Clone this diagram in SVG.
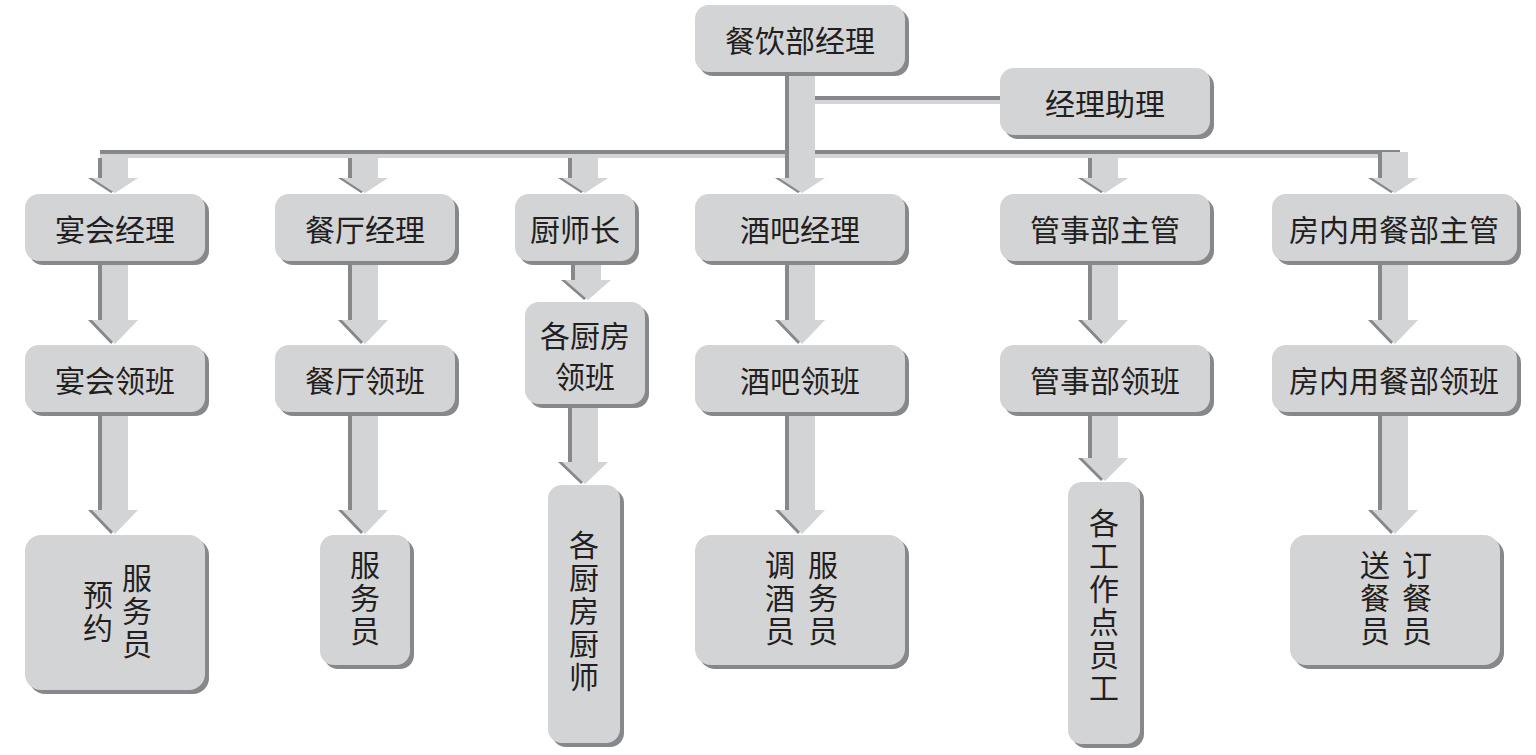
<svg xmlns="http://www.w3.org/2000/svg" width="1536" height="755" viewBox="0 0 1536 755">
<style>
.sh{fill:#87888b}.bx{fill:#d3d4d6}
.t{font-family:"Noto Sans CJK SC","Noto Sans",sans-serif;font-size:30px;fill:#231f20;text-anchor:middle;dominant-baseline:central}
.v{font-family:"Noto Sans CJK SC","Noto Sans",sans-serif;font-size:30px;fill:#231f20;writing-mode:vertical-rl;letter-spacing:3px}
.as{fill:#87888b}.af{fill:#d3d4d6}
</style>
<rect width="1536" height="755" fill="#fff"/>
<g id="connectors">
<rect x="100" y="150" width="1300" height="4" class="as"/><rect x="100" y="154" width="1300" height="4" class="af"/>
<rect x="815" y="96" width="190" height="4" class="as"/><rect x="815" y="100" width="190" height="4" class="af"/>
<g id="arrows">
<path class="as" transform="translate(-4,0)" d="M789 72V178H779L802 193L825 178H815V72Z"/><path class="af" d="M789 72V178H779L802 193L825 178H815V72Z"/>
<path class="as" transform="translate(-4,0)" d="M102 158V178H92L115 193L138 178H128V158Z"/><path class="af" d="M102 158V178H92L115 193L138 178H128V158Z"/>
<path class="as" transform="translate(-4,0)" d="M352 158V178H342L365 193L388 178H378V158Z"/><path class="af" d="M352 158V178H342L365 193L388 178H378V158Z"/>
<path class="as" transform="translate(-4,0)" d="M572 158V178H562L585 193L608 178H598V158Z"/><path class="af" d="M572 158V178H562L585 193L608 178H598V158Z"/>
<path class="as" transform="translate(-4,0)" d="M1092 158V178H1082L1105 193L1128 178H1118V158Z"/><path class="af" d="M1092 158V178H1082L1105 193L1128 178H1118V158Z"/>
<path class="as" transform="translate(-4,0)" d="M1382 152V178H1372L1395 193L1418 178H1408V152Z"/><path class="af" d="M1382 152V178H1372L1395 193L1418 178H1408V152Z"/>

<path class="as" transform="translate(-4,0)" d="M102 262V320H92L115 344L138 320H128V262Z"/><path class="af" d="M102 262V320H92L115 344L138 320H128V262Z"/>
<path class="as" transform="translate(-4,0)" d="M352 262V320H342L365 344L388 320H378V262Z"/><path class="af" d="M352 262V320H342L365 344L388 320H378V262Z"/>
<path class="as" transform="translate(-4,0)" d="M575 262V280H565L588 300L611 280H601V262Z"/><path class="af" d="M575 262V280H565L588 300L611 280H601V262Z"/>
<path class="as" transform="translate(-4,0)" d="M789 262V320H779L802 344L825 320H815V262Z"/><path class="af" d="M789 262V320H779L802 344L825 320H815V262Z"/>
<path class="as" transform="translate(-4,0)" d="M1092 262V320H1082L1105 344L1128 320H1118V262Z"/><path class="af" d="M1092 262V320H1082L1105 344L1128 320H1118V262Z"/>
<path class="as" transform="translate(-4,0)" d="M1382 262V320H1372L1395 344L1418 320H1408V262Z"/><path class="af" d="M1382 262V320H1372L1395 344L1418 320H1408V262Z"/>

<path class="as" transform="translate(-4,0)" d="M102 412V510H92L115 534L138 510H128V412Z"/><path class="af" d="M102 412V510H92L115 534L138 510H128V412Z"/>
<path class="as" transform="translate(-4,0)" d="M352 412V510H342L365 534L388 510H378V412Z"/><path class="af" d="M352 412V510H342L365 534L388 510H378V412Z"/>
<path class="as" transform="translate(-4,0)" d="M572 405V462H562L585 484L608 462H598V405Z"/><path class="af" d="M572 405V462H562L585 484L608 462H598V405Z"/>
<path class="as" transform="translate(-4,0)" d="M789 412V510H779L802 534L825 510H815V412Z"/><path class="af" d="M789 412V510H779L802 534L825 510H815V412Z"/>
<path class="as" transform="translate(-4,0)" d="M1092 412V458H1082L1105 481L1128 458H1118V412Z"/><path class="af" d="M1092 412V458H1082L1105 481L1128 458H1118V412Z"/>
<path class="as" transform="translate(-4,0)" d="M1382 412V510H1372L1395 534L1418 510H1408V412Z"/><path class="af" d="M1382 412V510H1372L1395 534L1418 510H1408V412Z"/>
</g>
</g>
<g id="n0"><rect class="sh" x="699" y="9" width="210" height="67" rx="14"/><rect class="bx" x="695" y="5" width="210" height="67" rx="14"/><text class="t" x="800" y="39">餐饮部经理</text></g>
<g id="n1"><rect class="sh" x="1004" y="72" width="210" height="67" rx="14"/><rect class="bx" x="1000" y="68" width="210" height="67" rx="14"/><text class="t" x="1105" y="102">经理助理</text></g>

<g id="a1"><rect class="sh" x="29" y="198" width="180" height="67" rx="14"/><rect class="bx" x="25" y="194" width="180" height="67" rx="14"/><text class="t" x="115" y="228">宴会经理</text></g>
<g id="b1"><rect class="sh" x="279" y="198" width="180" height="67" rx="14"/><rect class="bx" x="275" y="194" width="180" height="67" rx="14"/><text class="t" x="365" y="228">餐厅经理</text></g>
<g id="c1"><rect class="sh" x="519" y="198" width="120" height="67" rx="14"/><rect class="bx" x="515" y="194" width="120" height="67" rx="14"/><text class="t" x="575" y="228">厨师长</text></g>
<g id="d1"><rect class="sh" x="699" y="198" width="210" height="67" rx="14"/><rect class="bx" x="695" y="194" width="210" height="67" rx="14"/><text class="t" x="800" y="228">酒吧经理</text></g>
<g id="e1"><rect class="sh" x="1004" y="198" width="210" height="67" rx="14"/><rect class="bx" x="1000" y="194" width="210" height="67" rx="14"/><text class="t" x="1105" y="228">管事部主管</text></g>
<g id="f1"><rect class="sh" x="1276" y="198" width="245" height="67" rx="14"/><rect class="bx" x="1272" y="194" width="245" height="67" rx="14"/><text class="t" x="1394" y="228">房内用餐部主管</text></g>

<g id="a2"><rect class="sh" x="29" y="349" width="180" height="67" rx="14"/><rect class="bx" x="25" y="345" width="180" height="67" rx="14"/><text class="t" x="115" y="379">宴会领班</text></g>
<g id="b2"><rect class="sh" x="279" y="349" width="180" height="67" rx="14"/><rect class="bx" x="275" y="345" width="180" height="67" rx="14"/><text class="t" x="365" y="379">餐厅领班</text></g>
<g id="c2"><rect class="sh" x="529" y="306" width="120" height="102" rx="14"/><rect class="bx" x="525" y="302" width="120" height="102" rx="14"/><text class="t" x="585" y="334">各厨房</text><text class="t" x="585" y="375">领班</text></g>
<g id="d2"><rect class="sh" x="699" y="349" width="210" height="67" rx="14"/><rect class="bx" x="695" y="345" width="210" height="67" rx="14"/><text class="t" x="800" y="379">酒吧领班</text></g>
<g id="e2"><rect class="sh" x="1004" y="349" width="210" height="67" rx="14"/><rect class="bx" x="1000" y="345" width="210" height="67" rx="14"/><text class="t" x="1105" y="379">管事部领班</text></g>
<g id="f2"><rect class="sh" x="1276" y="349" width="245" height="67" rx="14"/><rect class="bx" x="1272" y="345" width="245" height="67" rx="14"/><text class="t" x="1394" y="379">房内用餐部领班</text></g>

<g id="a3"><rect class="sh" x="29" y="539" width="180" height="155" rx="16"/><rect class="bx" x="25" y="535" width="180" height="155" rx="16"/><text class="v" x="137" y="563">服务员</text><text class="v" x="98" y="580">预约</text></g>
<g id="b3"><rect class="sh" x="324" y="539" width="90" height="130" rx="14"/><rect class="bx" x="320" y="535" width="90" height="130" rx="14"/><text class="v" x="365" y="550">服务员</text></g>
<g id="c3"><rect class="sh" x="552" y="489" width="72" height="258" rx="14"/><rect class="bx" x="548" y="485" width="72" height="258" rx="14"/><text class="v" x="584" y="530">各厨房厨师</text></g>
<g id="d3"><rect class="sh" x="699" y="539" width="210" height="130" rx="16"/><rect class="bx" x="695" y="535" width="210" height="130" rx="16"/><text class="v" x="823" y="550">服务员</text><text class="v" x="780" y="550">调酒员</text></g>
<g id="e3"><rect class="sh" x="1072" y="486" width="72" height="262" rx="14"/><rect class="bx" x="1068" y="482" width="72" height="262" rx="14"/><text class="v" x="1104" y="508">各工作点员工</text></g>
<g id="f3"><rect class="sh" x="1294" y="539" width="210" height="130" rx="16"/><rect class="bx" x="1290" y="535" width="210" height="130" rx="16"/><text class="v" x="1417" y="550">订餐员</text><text class="v" x="1375" y="550">送餐员</text></g>
</svg>
